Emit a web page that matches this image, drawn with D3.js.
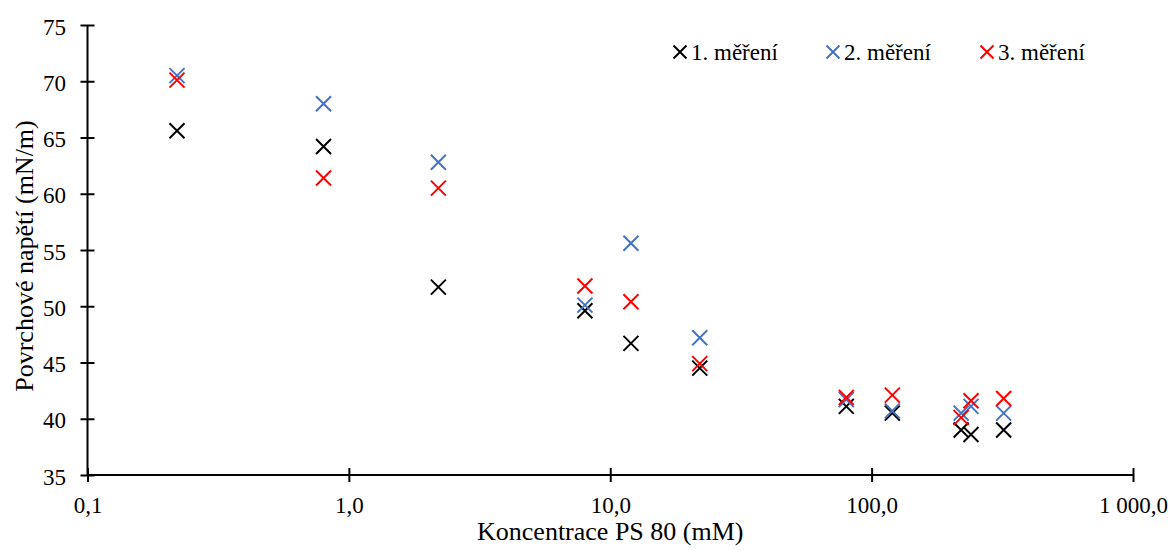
<!DOCTYPE html>
<html>
<head>
<meta charset="utf-8">
<script src="https://cdn.jsdelivr.net/npm/d3@7"></script>
<style>
  body { margin: 0; background: #fff; }
  text { font-family: "Liberation Serif", "Times New Roman", serif; fill: #000; }
</style>
</head>
<body>
<div id="chart"></div>
<script>
"use strict";

// koncentrace PS 80 (mM)
var conc = [0.22, 0.8, 2.2, 8, 12, 22, 80, 120, 220, 240, 320];
// povrchove napeti (mN/m) for each measurement
var mereni1 = [65.6, 64.2, 51.7, 49.6, 46.7, 44.5, 41.1, 40.5, 39.0, 38.6, 39.0];
var mereni2 = [70.5, 68.0, 62.8, 50.1, 55.6, 47.2, 41.7, 40.7, 40.5, 41.1, 40.5];
var mereni3 = [70.1, 61.4, 60.5, 51.8, 50.4, 44.9, 41.9, 42.1, 40.1, 41.6, 41.8];
var seriesNames = ["1. měření", "2. měření", "3. měření"];
var seriesColors = ["#000000", "#4472C4", "#FF0000"];
var xTicks = [0.1, 1, 10, 100, 1000];
var yTicks = [35, 40, 45, 50, 55, 60, 65, 70, 75];

var width = 1171, height = 551;
var margin = { top: 25, right: 38, bottom: 76, left: 87.5 };

var svg = d3.select("#chart").append("svg")
  .attr("width", width)
  .attr("height", height);

var x = d3.scaleLog()
  .domain([0.1, 1000])
  .range([margin.left, width - margin.right]);

var y = d3.scaleLinear()
  .domain([35, 75])
  .range([height - margin.bottom, margin.top]);

var cz = d3.formatLocale({ decimal: ",", thousands: "\u00a0", grouping: [3], currency: ["", " Kč"] });
var fmt = cz.format(",.1f");

// y axis
var yAxis = svg.append("g")
  .attr("transform", "translate(" + x(0.1) + ",0)")
  .call(d3.axisLeft(y).tickValues(yTicks).tickSize(7).tickPadding(14.5).tickFormat(d3.format("d")));
yAxis.selectAll(".tick line").attr("x2", 7).attr("x1", -7).attr("stroke-width", 2);
yAxis.select(".domain").attr("d", "M0," + y(35) + "V" + y(75)).attr("stroke-width", 2);
yAxis.selectAll("text").attr("font-size", 23).attr("font-family", "Liberation Serif").attr("dy", "0.4em");

// x axis
var xAxis = svg.append("g")
  .attr("transform", "translate(0," + y(35) + ")")
  .call(d3.axisBottom(x).tickValues(xTicks).tickSize(7).tickPadding(14).tickFormat(fmt));
xAxis.selectAll(".tick line").attr("y1", -7).attr("y2", 7).attr("stroke-width", 2);
xAxis.select(".domain").attr("d", "M" + x(0.1) + ",0H" + x(1000)).attr("stroke-width", 2);
xAxis.selectAll("text").attr("font-size", 23).attr("font-family", "Liberation Serif").attr("dy", "0.75em");

// axis titles
svg.append("text")
  .attr("x", (x(0.1) + x(1000)) / 2)
  .attr("y", 540)
  .attr("text-anchor", "middle")
  .attr("font-size", 26)
  .text("Koncentrace PS 80 (mM)");

svg.append("text")
  .attr("transform", "translate(33," + ((y(35) + y(75)) / 2 + 6) + ") rotate(-90)")
  .attr("text-anchor", "middle")
  .attr("font-size", 26)
  .text("Povrchové napětí (mN/m)");

// cross markers
function cross(s) {
  return "M" + (-s) + "," + (-s) + "L" + s + "," + s + "M" + (-s) + "," + s + "L" + s + "," + (-s);
}

var allSeries = [mereni1, mereni2, mereni3];
allSeries.forEach(function(vals, i) {
  svg.append("g").selectAll("path")
    .data(vals)
    .enter().append("path")
    .attr("transform", function(d, j) { return "translate(" + x(conc[j]) + "," + y(d) + ")"; })
    .attr("d", cross(7.5))
    .attr("fill", "none")
    .attr("stroke", seriesColors[i])
    .attr("stroke-width", 2);
});

// legend
var legendX = [680, 833, 987];
var legend = svg.append("g").selectAll("g")
  .data(seriesNames)
  .enter().append("g")
  .attr("transform", function(d, i) { return "translate(" + legendX[i] + ",52)"; });
legend.append("path")
  .attr("d", cross(6.5))
  .attr("fill", "none")
  .attr("stroke", function(d, i) { return seriesColors[i]; })
  .attr("stroke-width", 2);
legend.append("text")
  .attr("x", 11)
  .attr("y", 0)
  .attr("dy", "0.35em")
  .attr("font-size", 23)
  .text(function(d) { return d; });
</script>
</body>
</html>
